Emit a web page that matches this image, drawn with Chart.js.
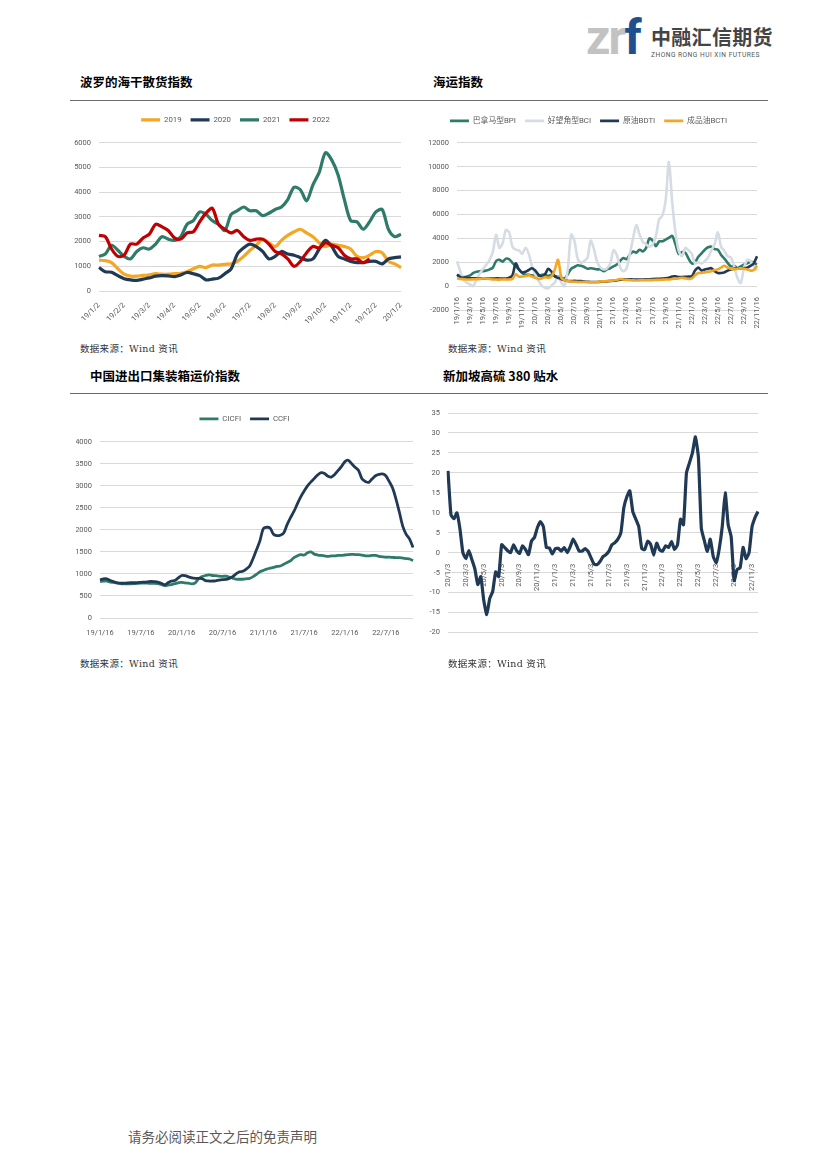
<!DOCTYPE html>
<html>
<head>
<meta charset="utf-8">
<script src="https://cdn.jsdelivr.net/npm/chart.js@4.4.0/dist/chart.umd.min.js"></script>
<style>
  body { margin: 0; background: #fff; }
  #page { position: relative; width: 826px; height: 1169px; overflow: hidden; font-family: "Noto Sans CJK SC", sans-serif; }
  .title { position: absolute; font-weight: bold; font-size: 12.5px; line-height: 1; color: #000; }
  .rule { position: absolute; left: 70px; width: 698px; height: 1px; background: #6b6b6b; }
  .src { position: absolute; font-size: 9.5px; line-height: 1; color: #333; font-family: "DejaVu Serif", "Noto Sans CJK SC", serif; letter-spacing: 0.3px; }
  canvas { position: absolute; }
  #logo-zr { position: absolute; left: 586px; top: 14px; font-family: Roboto, sans-serif; font-size: 48px; line-height: 1; font-weight: bold; letter-spacing: -2px; color: #c2c2c2; }
  #logo-zr span { color: #1f4f8f; }
  #logo-cn { position: absolute; left: 651px; top: 27px; font-size: 20px; line-height: 1; font-weight: bold; color: #444; letter-spacing: 0.3px; }
  #logo-en { position: absolute; left: 651px; top: 52px; font-family: Roboto, sans-serif; font-size: 6.6px; line-height: 1; color: #555; letter-spacing: 0.5px; }
  #footer { position: absolute; left: 128px; top: 1130px; font-size: 13.5px; line-height: 1; color: #595959; }
</style>
</head>
<body>
<div id="page">
  <div id="logo-zr">zr<span>f</span></div>
  <div id="logo-cn">中融汇信期货</div>
  <div id="logo-en">ZHONG RONG HUI XIN FUTURES</div>

  <div class="title" style="left:80px; top:76px;">波罗的海干散货指数</div>
  <div class="title" style="left:433px; top:76px;">海运指数</div>
  <div class="rule" style="top:100px;"></div>

  <canvas id="bdiChart" width="340" height="230" style="left:70px; top:100px;"></canvas>
  <canvas id="shipChart" width="350" height="230" style="left:420px; top:100px;"></canvas>

  <div class="src" style="left:80px; top:344px;">数据来源：Wind 资讯</div>
  <div class="src" style="left:448px; top:344px;">数据来源：Wind 资讯</div>

  <div class="title" style="left:90px; top:370px;">中国进出口集装箱运价指数</div>
  <div class="title" style="left:443px; top:370px;">新加坡高硫 380 贴水</div>
  <div class="rule" style="top:393px;"></div>

  <canvas id="boxChart" width="347" height="245" style="left:76px; top:400px;"></canvas>
  <canvas id="hsfoChart" width="350" height="245" style="left:420px; top:400px;"></canvas>

  <div class="src" style="left:80px; top:659px;">数据来源：Wind 资讯</div>
  <div class="src" style="left:448px; top:659px;">数据来源：Wind 资讯</div>

  <div id="footer">请务必阅读正文之后的免责声明</div>
</div>

<script>
// 波罗的海干散货指数 (weekly-ish, 19/1/2 -> 20/1/2)
const bdiTicks = ["19/1/2", "19/2/2", "19/3/2", "19/4/2", "19/5/2", "19/6/2", "19/7/2",
  "19/8/2", "19/9/2", "19/10/2", "19/11/2", "19/12/2", "20/1/2"];
const bdi2019 = [1250, 1230, 1150, 900, 680, 600, 600, 630, 650, 700, 680, 680, 700, 720, 780, 900, 1000,
  950, 1050, 1050, 1080, 1100, 1200, 1400, 1650, 1850, 2100, 1950, 1800, 2050, 2250, 2400, 2500,
  2350, 2200, 1950, 1800, 1900, 1850, 1800, 1700, 1400, 1350, 1450, 1600, 1550, 1200, 1100, 950];
const bdi2020 = [950, 780, 760, 620, 500, 450, 430, 480, 530, 600, 620, 610, 580, 650, 750, 700, 620,
  450, 480, 520, 700, 900, 1500, 1750, 1900, 1800, 1600, 1300, 1400, 1600, 1500, 1450, 1350,
  1250, 1300, 1700, 2050, 1800, 1400, 1300, 1200, 1150, 1150, 1200, 1200, 1100, 1300, 1350, 1380];
const bdi2021 = [1400, 1500, 1850, 1650, 1400, 1300, 1600, 1750, 1700, 1900, 2200, 2100, 2050, 2200, 2700, 2850, 3200,
  3100, 2850, 2700, 2450, 3100, 3250, 3400, 3250, 3250, 3050, 3150, 3300, 3400, 3700, 4200, 4100,
  3650, 4300, 4800, 5600, 5300, 4700, 3700, 2850, 2800, 2500, 2800, 3200, 3300, 2500, 2200, 2300];
const bdi2022 = [2250, 2200, 1700, 1400, 1450, 1900, 1900, 2150, 2300, 2700, 2600, 2450, 2150, 2100, 2350, 2400, 2800,
  3150, 3350, 2700, 2500, 2350, 2450, 2200, 2050, 2100, 2100, 1900, 1600, 1500, 1300, 1000, 1200,
  1550, 1800, 1750, 1950, 1850, 1750, 1450, 1300, 1300, 1150, 1300, null, null, null, null, null];

// 海运指数 (half-monthly, 19/1/16 -> 22/11/16)
const shipTicks = ["19/1/16", "19/3/16", "19/5/16", "19/7/16", "19/9/16", "19/11/16",
  "20/1/16", "20/3/16", "20/5/16", "20/7/16", "20/9/16", "20/11/16",
  "21/1/16", "21/3/16", "21/5/16", "21/7/16", "21/9/16", "21/11/16",
  "22/1/16", "22/3/16", "22/5/16", "22/7/16", "22/9/16", "22/11/16"];
const bpi = [900, 850, 750, 800, 900, 1100, 1200, 1250, 1250, 1300, 1400, 1550, 2100, 2200, 2050, 2300,
  2250, 1950, 1650, 1400, 1100, 950, 950, 900, 850, 850, 950, 950, 850, 950, 850, 800,
  700, 650, 1000, 1450, 1600, 1750, 1700, 1600, 1450, 1500, 1450, 1400, 1400, 1250, 1400, 1500,
  1650, 1800, 2100, 2350, 2250, 2650, 2900, 2800, 3050, 2900, 3200, 4000, 3800, 3350, 3750, 3750,
  3900, 4050, 4200, 3500, 2700, 2850, 2800, 2300, 1900, 2000, 2450, 2750, 3050, 3250, 3300, 3100,
  3050, 2600, 2300, 1950, 1650, 1700, 1500, 1650, 1800, 1900, 2050, 1950, 1800];
const bci = [2080, 1250, 550, 280, 140, 0, 600, 1050, 1450, 1800, 2200, 2900, 4300, 3200, 3600, 4700,
  4500, 3300, 3050, 3000, 2700, 3200, 2700, 1670, 970, 450, 50, -150, -180, 50, 300, 800,
  300, 0, 1500, 4300, 3800, 2300, 1950, 2100, 2360, 3800, 3100, 2000, 1550, 1400, 1500, 1900,
  3000, 2600, 1600, 1250, 1500, 2700, 4000, 5100, 4300, 3700, 3500, 3300, 3500, 4200, 5600, 5900,
  7200, 10400, 7000, 4500, 2950, 2500, 3200, 3000, 2700, 1900, 2000, 1900, 2100, 2400, 3000, 3500,
  4500, 3300, 2950, 2500, 2400, 1650, 700, 250, 1500, 2200, 2100, 1700, 1300];
const bdti = [970, 750, 700, 700, 650, 650, 640, 640, 650, 640, 640, 630, 650, 640, 640, 630,
  700, 900, 1900, 1400, 1150, 1200, 1350, 1500, 1300, 950, 800, 1000, 1450, 1200, 800, 700,
  580, 500, 430, 420, 440, 430, 420, 380, 360, 340, 350, 340, 360, 380, 400, 430,
  450, 480, 540, 560, 560, 570, 560, 560, 560, 560, 570, 570, 600, 620, 620, 630,
  650, 700, 800, 820, 760, 760, 780, 800, 820, 1300, 1550, 1300, 1400, 1450, 1500, 1250,
  1100, 1100, 1150, 1300, 1400, 1450, 1500, 1500, 1500, 1550, 1700, 1900, 2500];
const bcti = [650, 600, 580, 560, 560, 570, 580, 600, 650, 620, 600, 560, 550, 540, 560, 560,
  560, 600, 1000, 800, 800, 850, 900, 800, 700, 600, 650, 750, 700, 800, 1400, 2200,
  700, 500, 420, 380, 360, 350, 340, 340, 330, 320, 330, 350, 380, 400, 420, 450,
  480, 520, 600, 550, 520, 500, 480, 470, 480, 500, 500, 500, 500, 520, 520, 540,
  560, 560, 600, 620, 650, 700, 650, 600, 650, 900, 1100, 1100, 1150, 1200, 1250, 1350,
  1400, 1550, 1700, 1550, 1450, 1400, 1450, 1500, 1450, 1400, 1300, 1350, 1700];

// 中国进出口集装箱运价指数 (half-monthly, 19/1/16 -> 22/11)
const boxTicks = ["19/1/16", "19/7/16", "20/1/16", "20/7/16", "21/1/16", "21/7/16", "22/1/16", "22/7/16"];
const cicfi = [830, 835, 840, 815, 810, 795, 780, 775, 775, 775, 780, 785, 790, 790, 790, 785,
  785, 780, 760, 735, 745, 760, 780, 800, 810, 795, 790, 775, 800, 890, 940, 965,
  980, 965, 960, 950, 945, 950, 930, 905, 880, 880, 880, 890, 900, 940, 990, 1050,
  1080, 1110, 1130, 1150, 1170, 1180, 1220, 1260, 1300, 1370, 1410, 1440, 1430, 1480, 1500, 1450,
  1430, 1420, 1410, 1400, 1410, 1410, 1420, 1420, 1430, 1440, 1445, 1440, 1440, 1430, 1410, 1410,
  1420, 1420, 1400, 1390, 1380, 1380, 1375, 1370, 1370, 1360, 1350, 1340, 1300];
const ccfi = [866, 890, 890, 850, 825, 800, 790, 790, 795, 800, 800, 805, 810, 815, 820, 830,
  825, 815, 790, 755, 800, 840, 850, 910, 965, 960, 935, 910, 900, 900, 895, 850,
  840, 840, 845, 860, 870, 875, 900, 940, 1000, 1050, 1060, 1110, 1180, 1350, 1550, 1750,
  2030, 2060, 2040, 1900, 1870, 1880, 1930, 2120, 2280, 2420, 2590, 2750, 2880, 3000, 3090, 3170,
  3250, 3300, 3280, 3220, 3200, 3260, 3350, 3440, 3550, 3580, 3500, 3420, 3350, 3160, 3100, 3080,
  3160, 3230, 3260, 3270, 3230, 3100, 2950, 2700, 2400, 2080, 1900, 1790, 1600];

// 新加坡高硫380贴水 (about every 10 days, 20/1/3 -> 22/11)
const hsfoTicks = ["20/1/3", "20/3/3", "20/5/3", "20/7/3", "20/9/3", "20/11/3",
  "21/1/3", "21/3/3", "21/5/3", "21/7/3", "21/9/3", "21/11/3",
  "22/1/3", "22/3/3", "22/5/3", "22/7/3", "22/9/3", "22/11/3"];
const hsfoSpread = [20.5, 9.5, 8.5, 10, 6, 0, -1.5, 0.5, -1.7, -4, -8, -6, -12, -15.5, -11.5, -9.7,
  -4.8, -6, 2, 1.3, 0.5, 0, 2, 0.5, -0.2, 1.7, 0.8, -0.5, 2.9, 3.8, 6.3, 7.8,
  6.5, 1.3, 1.2, -0.3, 1, 1.1, 0.4, 1.3, 0, 1.5, 3.4, 2, 0.4, 0.4, 1, 0.3,
  -1.3, -2.9, -3, -2.2, -1, -0.5, 0.4, 2, 2.5, 3.4, 5, 11.3, 14, 15.5, 10.3, 8.4,
  6.5, 1, 0.8, 2.9, 2.1, -0.6, 2.4, 0.7, 0.4, 1.7, 1.3, 2.8, 0.8, 2, 8.4, 7,
  20, 22.5, 25, 29, 24, 6, 3, 0.3, 3.4, -1, -2.5, 1, 6.5, 15, 7, 4,
  -7, -4.2, -3.8, 1.3, -1.5, 0, 6.5, 8.8, 10.3];

const NAVY = "#203a55";
const TEAL = "#2e7b69";
const ORANGE = "#f5a623";
const RED = "#c00000";
const LIGHT = "#d6dce4";
const TICK = "#595959";
const GRID = "#d9d9d9";

Chart.defaults.font.family = 'Roboto, "Noto Sans CJK SC", sans-serif';
Chart.defaults.color = TICK;
Chart.defaults.animation = false;

function buildLabels(ticks, step, n) {
  return Array.from({ length: n }, (_, i) => (i % step === 0 ? (ticks[i / step] || "") : ""));
}

function line(label, data, color, width, order) {
  return {
    label, data, borderColor: color, backgroundColor: color,
    borderWidth: width, pointRadius: 0, tension: 0.3, order, spanGaps: false
  };
}

// pushes the plot down a little below the legend
const legendGap = {
  id: "legendGap",
  beforeLayout(chart, args, opts) {
    const lg = chart.legend;
    if (!lg || lg._gapPatched) return;
    const fit = lg.fit;
    lg.fit = function () { fit.call(this); this.height += opts.gap || 0; };
    lg._gapPatched = true;
  }
};

function legendOpts() {
  return {
    display: true,
    labels: {
      usePointStyle: true, pointStyle: "line", pointStyleWidth: 19,
      font: { size: 7.8 }, color: TICK, padding: 9,
      sort: (a, b) => a.datasetIndex - b.datasetIndex
    }
  };
}

function yAxis(min, max, step, width) {
  return {
    min, max,
    ticks: { stepSize: step, font: { size: 7.5 }, color: TICK, padding: 8, callback: v => v },
    grid: { color: GRID, drawTicks: false },
    border: { display: false },
    afterFit: s => { s.width = width; }
  };
}

// chart 1
new Chart(document.getElementById("bdiChart"), {
  type: "line",
  data: {
    labels: buildLabels(bdiTicks, 4, bdi2019.length),
    datasets: [
      line("2019", bdi2019, ORANGE, 3.2, 4),
      line("2020", bdi2020, NAVY, 3.2, 3),
      line("2021", bdi2021, TEAL, 3.2, 2),
      line("2022", bdi2022, RED, 3.2, 1)
    ]
  },
  options: {
    responsive: false,
    layout: { padding: { top: 7, right: 9, left: 0, bottom: 0 } },
    plugins: { legend: legendOpts(), legendGap: { gap: 9 }, tooltip: { enabled: false } },
    scales: {
      x: {
        grid: { display: false }, border: { display: false },
        ticks: { autoSkip: false, minRotation: 45, maxRotation: 45, font: { size: 7.5 }, color: TICK, padding: 2 },
        afterFit: s => { s.height = 39; }
      },
      y: yAxis(0, 6000, 1000, 29)
    }
  },
  plugins: [legendGap]
});

// chart 2
new Chart(document.getElementById("shipChart"), {
  type: "line",
  data: {
    labels: buildLabels(shipTicks, 4, bpi.length),
    datasets: [
      line("巴拿马型BPI", bpi, TEAL, 2.6, 4),
      line("好望角型BCI", bci, LIGHT, 2.6, 3),
      line("原油BDTI", bdti, NAVY, 2.6, 2),
      line("成品油BCTI", bcti, ORANGE, 2.6, 1)
    ]
  },
  options: {
    responsive: false,
    layout: { padding: { top: 8, right: 13, left: 0, bottom: 20 } },
    plugins: { legend: legendOpts(), legendGap: { gap: 8 }, tooltip: { enabled: false } },
    scales: {
      x: {
        position: { y: 0 },
        grid: { display: false }, border: { display: false },
        ticks: { autoSkip: false, minRotation: 90, maxRotation: 90, font: { size: 7.5 }, color: TICK, padding: 3 }
      },
      y: yAxis(-2000, 12000, 2000, 37)
    }
  },
  plugins: [legendGap]
});

// chart 3
new Chart(document.getElementById("boxChart"), {
  type: "line",
  data: {
    labels: buildLabels(boxTicks, 12, ccfi.length),
    datasets: [
      line("CICFI", cicfi, TEAL, 2.8, 2),
      line("CCFI", ccfi, NAVY, 2.8, 1)
    ]
  },
  options: {
    responsive: false,
    layout: { padding: { top: 6, right: 10, left: 0, bottom: 0 } },
    plugins: { legend: legendOpts(), legendGap: { gap: 9 }, tooltip: { enabled: false } },
    scales: {
      x: {
        grid: { display: false }, border: { display: false },
        ticks: { autoSkip: false, maxRotation: 0, font: { size: 7.5 }, color: TICK, padding: 3 },
        afterFit: s => { s.height = 27; }
      },
      y: yAxis(0, 4000, 500, 24)
    }
  },
  plugins: [legendGap]
});

// chart 4
new Chart(document.getElementById("hsfoChart"), {
  type: "line",
  data: {
    labels: buildLabels(hsfoTicks, 6, hsfoSpread.length),
    datasets: [
      Object.assign(line("贴水", hsfoSpread, NAVY, 3.2, 1), { tension: 0.15 })
    ]
  },
  options: {
    responsive: false,
    layout: { padding: { top: 13, right: 10, left: 0, bottom: 12 } },
    plugins: { legend: { display: false }, tooltip: { enabled: false } },
    scales: {
      x: {
        position: { y: 0 },
        grid: { display: false }, border: { display: false },
        ticks: { autoSkip: false, minRotation: 90, maxRotation: 90, font: { size: 7.5 }, color: TICK, padding: 3 }
      },
      y: yAxis(-20, 35, 5, 28)
    }
  }
});
</script>
</body>
</html>
